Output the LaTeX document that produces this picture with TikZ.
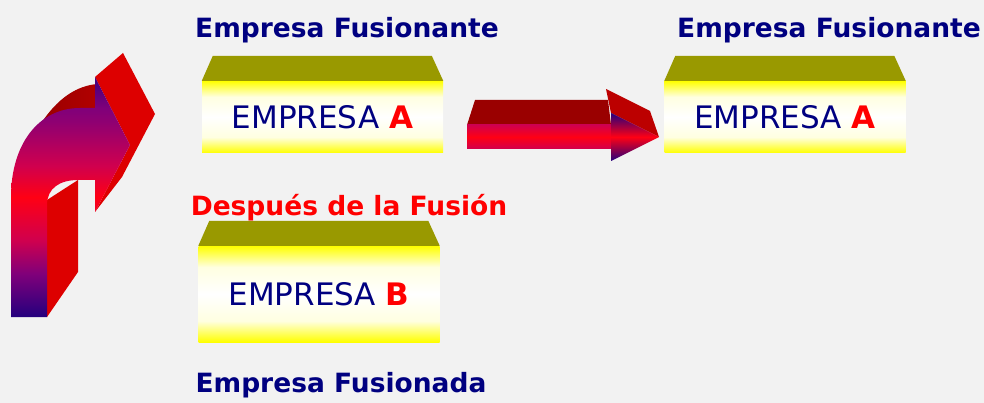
\documentclass[tikz,border=0pt]{standalone}
\usepackage{fontspec}
\setmainfont{DejaVu Sans}
\usetikzlibrary{positioning}
\definecolor{fondo}{HTML}{F2F2F2}
\definecolor{azul}{HTML}{000080}
\definecolor{oliva}{HTML}{999900}
\definecolor{flechaazul}{HTML}{24007E}
\definecolor{flecharoja}{HTML}{FF0014}
\definecolor{flechamag}{HTML}{D0004E}
\definecolor{flechapur}{HTML}{80007A}
\definecolor{lado}{HTML}{DD0000}
\definecolor{techo}{HTML}{9A0000}
\definecolor{techopunta}{HTML}{BC0000}
\pgfdeclareverticalshading{cajaluz}{100bp}{color(0bp)=(yellow); color(25bp)=(yellow); color(36bp)=(yellow!12!white);
  color(50bp)=(white); color(64bp)=(yellow!12!white); color(75bp)=(yellow); color(100bp)=(yellow)}
\pgfdeclareverticalshading{curva}{100bp}{color(0bp)=(flechaazul); color(25bp)=(flechaazul); color(34bp)=(flechapur);
  color(41bp)=(flechamag); color(50bp)=(flecharoja); color(56.5bp)=(flechamag);
  color(65.5bp)=(flechapur!80!flechamag); color(68.5bp)=(flechapur); color(75bp)=(flechaazul!70!flechapur);
  color(100bp)=(flechaazul!70!flechapur)}

\begin{document}
\begin{tikzpicture}[
		x=1pt, y=-1pt,
		every node/.style={inner sep=0pt},
		caja/.style={minimum width=241pt, shading=cajaluz,
			font=\fontsize{31}{31}\selectfont, text=azul},
		titulo/.style={font=\bfseries\fontsize{26.5}{26.5}\selectfont, text=azul}
	]
  \fill[fondo] (0,0) rectangle (984,403);
  \useasboundingbox (0,0) rectangle (984,403);

  \node (empA) [caja, minimum height=72pt] at (322.5,117) {EMPRESA \textcolor{red}{\bfseries A}\hspace{14pt}};
  \node (empB) [caja, minimum height=96pt] at (319,294) {EMPRESA \textcolor{red}{\bfseries B}\hspace{14pt}};
  \node (empR) [caja, minimum height=72pt] at (785,117) {EMPRESA \textcolor{red}{\bfseries A}\hspace{14pt}};
  \foreach \c in {empA, empB, empR}
    \fill[oliva] (\c.north west) -- ++(11,-25) -- ++(219,0) -- (\c.north east) -- cycle;

  \node (fusA) [titulo] at (347,30) {Empresa Fusionante};
  \node (fusR) [titulo] at (829,30) {Empresa Fusionante};
  \node (despues) [titulo, text=red] at (349,208) {Después de la Fusión};
  \node (fusB) [titulo] at (341,385) {Empresa Fusionada};

  \fill[lado] (47,317) -- (78,272) -- (78,180) -- (47,200) -- cycle;
  \shade[left color=techo, right color=lado!80!black] (38,128) .. controls (58,96) and (78,86) .. (97,84) -- (97,112) -- (60,118) -- cycle;
  \fill[lado] (95,77) -- (123,53) -- (155,114) -- (122,177) -- (95,212) -- (130,145) -- cycle;
  \shade[shading=curva]
    (11,317) -- (11,197) .. controls (11,145) and (38,108) .. (80,108) -- (95,108) -- (95,77)
    -- (130,145) -- (95,212) -- (95,180) -- (78,180) .. controls (60,180) and (47,188) .. (47,205)
    -- (47,317) -- cycle;

  \fill[techo] (467,125) -- (475,100) -- (608,100) -- (611,125) -- cycle;
  \fill[techopunta] (606,89) -- (650,111) -- (659,137) -- (611,113) -- cycle;
  \shade[top color=flechamag, bottom color=flechamag, middle color=flecharoja]
    (467,125) rectangle (611,149);
  \shade[top color=flechaazul, bottom color=flechaazul, middle color=flecharoja]
    (611,113) -- (659,137) -- (611,161) -- cycle;
\end{tikzpicture}
\end{document}
